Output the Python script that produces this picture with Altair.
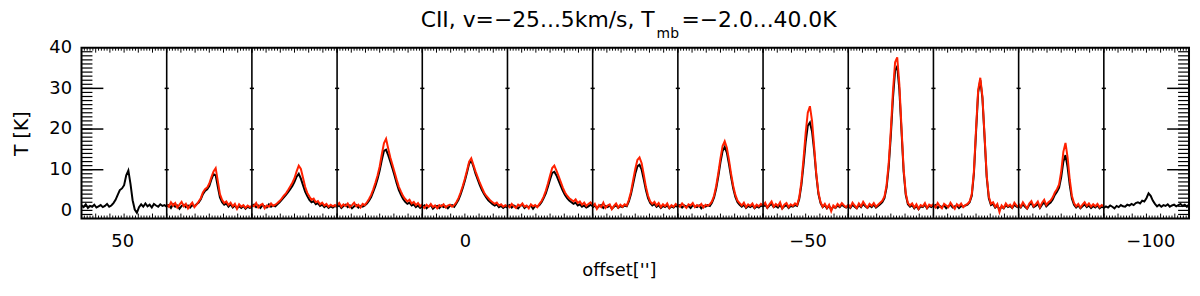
import altair as alt
import pandas as pd

# ---------------- data ----------------
VELOCITY = [-25, -24.25, -23.5, -22.75, -22, -21.25, -20.5, -19.75, -19, -18.25,
            -17.5, -16.75, -16, -15.25, -14.5, -13.75, -13, -12.25, -11.5, -10.75,
            -10, -9.25, -8.5, -7.75, -7, -6.25, -5.5, -4.75, -4, -3.25,
            -2.5, -1.75, -1, -0.25, 0.5, 1.25, 2, 2.75, 3.5, 4.25, 5]
V_MIN, V_MAX = -25, 5
PANEL_OFFSETS = [49.72, 37.29, 24.86, 12.43, 0.0, -12.43, -24.86, -37.29,
                 -49.72, -62.15, -74.58, -87.01, -99.44]
PANEL_STEP = 12.43

B01 = [1.2, 0.8, 1.5, 0.6, 1.1, 0.9, 1.4, 0.7, 1.0, 1.3, 0.8, 1.1, 1.6, 0.9, 1.2,
       1.8, 2.6, 3.8, 5.0, 5.4, 6.2, 8.6, 9.8, 6.5, 2.5, 0.2, -0.6, 0.8, 1.5, 0.9,
       1.7, 1.0, 1.4, 0.7, 1.6, 1.2, 0.9, 1.5, 1.1, 1.3, 0.9]
B02 = [1.0, 1.3, 0.6, 1.5, 0.9, 1.2, 0.4, 1.1, 1.4, 0.8, 1.2, 0.7, 1.3, 1.0, 1.5,
       1.9, 2.7, 4.0, 4.8, 5.2, 6.0, 7.6, 8.9, 8.6, 5.8, 3.2, 2.0, 1.4, 1.7, 0.9,
       1.5, 0.7, 1.2, 0.5, 1.0, 0.6, 1.1, 0.4, 0.9, 0.6, 0.8]
R02 = [1.5, 0.9, 2.0, 1.2, 1.8, 0.7, 1.4, 2.1, 1.0, 1.6, 0.5, 1.3, 1.9, 0.8, 1.4,
       2.2, 3.0, 4.4, 5.2, 5.6, 6.6, 8.2, 9.6, 10.4, 7.2, 4.0, 2.6, 1.8, 2.2, 1.3,
       1.9, 1.0, 1.6, 0.4, 1.5, 0.9, 1.3, 0.6, 1.2, 0.8, 1.1]
B03 = [1.0, 1.4, 0.8, 1.2, 0.6, 1.3, 1.0, 0.7, 1.5, 0.9, 1.2, 1.0,
       1.5, 2.0, 2.6, 3.2, 3.8, 4.5, 5.2, 6.0, 7.0, 8.3, 9.0, 7.8, 6.2, 4.6, 3.5,
       2.6, 2.0, 2.3, 1.5, 1.8, 1.1, 1.4, 0.8, 1.2, 0.6, 1.0, 0.7, 1.1, 0.9]
R03 = [1.4, 1.0, 1.8, 0.7, 1.3, 1.6, 0.5, 1.2, 0.9, 1.7, 1.1, 1.4,
       1.8, 2.3, 2.9, 3.6, 4.2, 5.0, 5.9, 6.8, 7.9, 9.6, 11.0, 10.2, 8.0, 5.8, 4.3,
       3.4, 2.6, 2.9, 2.0, 2.3, 1.5, 1.9, 1.2, 1.6, 0.9, 1.4, 1.0, 1.3, 0.8]
B04 = [0.9, 1.3, 0.6, 1.1, 1.4, 0.8, 1.2, 0.5, 1.0, 1.3, 0.7, 1.1, 0.9, 1.2,
       1.7, 2.4, 3.3, 4.6, 6.0, 7.7, 9.8, 12.4, 14.6, 14.9, 13.6, 12.0, 10.3, 8.5,
       6.6, 5.0, 3.8, 2.8, 2.1, 1.6, 1.9, 1.2, 1.5, 0.8, 1.2, 0.6, 1.0]
R04 = [1.2, 1.8, 0.9, 1.5, 1.1, 1.7, 0.8, 1.3, 1.9, 1.0, 1.4, 0.7, 1.6, 1.3,
       2.0, 2.8, 3.8, 5.2, 6.8, 8.6, 10.8, 13.8, 16.5, 17.6, 15.2, 13.0, 11.2, 9.4,
       7.5, 5.8, 4.6, 3.5, 2.8, 2.2, 2.6, 1.7, 2.1, 1.3, 1.8, 1.0, 1.5]
B05 = [0.8, 1.2, 0.5, 1.0, 1.3, 0.4, 0.9, 1.1, 0.6, 1.2, 0.8, 1.0, 0.5, 1.1, 1.3, 0.9,
       1.7, 2.6, 3.9, 5.5, 7.3, 9.3, 11.5, 12.3, 10.8, 9.0, 7.6, 6.2, 5.0, 4.0,
       3.2, 2.5, 2.0, 1.5, 1.2, 1.5, 0.8, 1.1, 0.6, 1.0, 0.7]
R05 = [1.1, 0.6, 1.4, 0.9, 1.6, 0.8, 1.2, 0.5, 1.3, 1.0, 1.5, 0.7, 1.2, 1.4, 0.9, 1.3,
       2.0, 3.0, 4.4, 6.0, 7.8, 9.8, 12.0, 12.8, 11.2, 9.6, 8.2, 6.8, 5.6, 4.4,
       3.6, 3.0, 2.4, 2.0, 1.6, 1.9, 1.2, 1.5, 0.9, 1.3, 1.0]
B06 = [1.0, 1.3, 0.7, 1.2, 0.9, 0.5, 1.1, 1.4, 0.6, 1.0, 0.8, 1.2, 0.4, 1.1, 0.9, 1.3,
       2.0, 3.0, 4.2, 5.8, 7.6, 9.2, 9.5, 8.6, 7.3, 6.0, 4.8, 3.8, 3.0, 2.4,
       2.0, 1.6, 1.9, 1.2, 1.5, 0.9, 1.2, 0.7, 1.0, 1.4, 1.0]
R06 = [1.3, 0.8, 1.6, 1.0, 0.6, 1.4, 1.1, 1.7, 0.9, 1.2, 0.5, 1.5, 1.0, 1.3, 0.8, 1.6,
       2.3, 3.4, 4.8, 6.6, 8.6, 10.4, 11.0, 9.8, 8.4, 7.0, 5.6, 4.4, 3.6, 3.0,
       2.6, 2.2, 2.7, 1.8, 2.2, 1.4, 1.9, 1.1, 1.6, 2.0, 1.4]
B07 = [0.7, 1.2, 0.5, 1.0, 1.3, 0.6, 1.1, 0.8, 1.2, 0.4, 0.9, 1.3, 0.6, 1.0, 0.8, 1.2, 1.0,
       2.2, 4.0, 6.5, 9.0, 10.8, 11.2, 10.0, 7.6, 5.0, 3.0, 1.8, 1.2, 1.6, 0.9,
       1.3, 0.6, 1.1, 0.8, 1.2, 0.5, 1.0, 0.7, 1.2, 0.8]
R07 = [1.0, 1.6, 0.4, 1.3, 0.8, 1.9, 0.6, 1.2, 1.5, 0.3, 1.1, 1.7, 0.7, 1.4, 0.9, 1.5, 1.2,
       2.6, 4.6, 7.4, 10.2, 12.4, 13.0, 11.6, 8.8, 5.8, 3.6, 2.2, 1.6, 2.1, 1.2,
       1.8, 0.8, 1.5, 1.0, 1.7, 0.6, 1.3, 0.9, 1.6, 1.1]
B08 = [1.0, 1.3, 0.7, 1.2, 0.9, 1.1, 0.6, 1.3, 1.0, 0.8, 1.2, 0.5, 1.1, 0.9, 1.3, 1.1,
       1.9, 3.2, 5.4, 8.4, 11.8, 14.6, 15.6, 14.2, 11.4, 8.2, 5.4, 3.3, 2.0, 1.4,
       0.9, 1.4, 0.6, 1.1, 0.8, 1.2, 0.5, 1.0, 0.7, 1.2, 0.9]
R08 = [1.4, 0.9, 1.7, 1.1, 0.6, 1.5, 1.2, 1.8, 0.8, 1.3, 1.0, 1.6, 0.7, 1.4, 1.1, 1.5,
       2.2, 3.6, 6.0, 9.2, 12.8, 15.8, 17.0, 15.4, 12.4, 9.0, 6.0, 3.8, 2.4, 1.8,
       1.2, 1.9, 0.8, 1.5, 1.1, 1.7, 0.7, 1.4, 1.0, 1.6, 1.2]
B09 = [0.9, 1.4, 0.6, 1.2, 1.6, 0.8, 1.1, 0.7, 1.4, 0.5, 1.0, 1.3, 0.6, 1.1, 0.9, 1.3, 1.1,
       2.8, 6.2, 11.2, 16.8, 20.8, 21.6, 19.4, 14.6, 8.6, 4.0, 1.8, 0.8, 1.3, 0.5,
       1.1, 0.2, 0.9, 0.6, 1.2, 0.8, 1.4, 1.0, 0.7, 1.1]
R09 = [1.2, 1.9, 0.7, 1.5, 2.2, 0.9, 1.6, 1.1, 2.0, 0.5, 1.4, 1.8, 0.8, 1.5, 1.1, 1.7, 1.3,
       3.2, 7.0, 12.6, 19.0, 24.0, 25.6, 22.0, 15.6, 9.0, 4.4, 2.0, 0.9, 1.6, 0.6,
       1.4, -0.2, 1.2, 0.7, 1.6, 1.0, 1.8, 1.2, 0.8, 1.4]
B10 = [1.1, 0.6, 1.4, 0.9, 0.5, 1.3, 0.8, 1.6, 1.0, 0.6, 1.2, 0.8, 1.4, 0.7, 1.1, 1.5, 2.0,
       3.0, 5.6, 10.6, 18.4, 27.6, 34.4, 35.4, 29.6, 19.6, 9.6, 3.8, 1.5, 0.9, 1.3,
       0.5, 1.1, 0.3, 1.0, 0.8, 1.4, 0.5, 1.1, 0.8, 1.2]
R10 = [1.5, 0.8, 1.9, 1.2, 0.6, 1.7, 1.0, 2.1, 1.3, 0.7, 1.6, 1.1, 1.8, 0.9, 1.4, 1.9, 2.4,
       3.4, 6.2, 11.6, 19.8, 29.4, 36.4, 37.6, 31.0, 20.4, 10.2, 4.2, 1.8, 1.2, 1.7,
       0.7, 1.5, 0.4, 1.3, 1.0, 1.8, 0.6, 1.4, 1.1, 1.6]
B11 = [1.0, 1.3, 0.6, 1.1, 0.8, 1.2, 0.5, 1.0, 1.4, 0.7, 1.0, 1.2, 0.6, 1.1, 0.9, 1.2, 1.4, 2.0,
       3.6, 9.0, 19.2, 29.0, 32.0, 27.6, 18.0, 8.2, 3.0, 1.3, 1.6, 0.7, 1.2,
       0.2, 0.9, 0.5, 1.3, 0.8, 1.1, 0.6, 1.4, 0.9, 0.7]
R11 = [1.3, 0.7, 1.8, 1.0, 0.5, 1.6, 1.2, 0.8, 1.9, 1.1, 0.4, 1.5, 1.0, 1.7, 0.8, 1.3, 1.6, 2.2,
       4.0, 9.6, 20.0, 29.6, 32.6, 28.0, 18.4, 8.6, 3.4, 1.6, 2.0, 0.9, 1.6,
       -0.4, 1.2, 0.6, 1.7, 1.0, 1.4, 0.7, 1.9, 1.2, 0.8]
B12 = [1.2, 0.7, 1.5, 0.9, 0.4, 1.3, 1.8, 0.8, 1.1, 1.6, 0.6, 1.4, 2.0, 1.0, 1.5, 1.9,
       2.7, 3.8, 4.6, 5.6, 8.2, 12.0, 13.6, 10.6, 6.2, 2.9, 1.4, 0.7, 1.2, 0.5,
       1.0, 1.5, 0.8, 1.2, 0.6, 1.1, 0.7, 1.2, 0.5, 0.9, 0.7]
R12 = [1.6, 0.9, 2.0, 1.2, 0.5, 1.7, 2.3, 1.0, 1.5, 2.2, 0.8, 1.9, 2.6, 1.3, 2.0, 2.4,
       3.2, 4.4, 5.2, 6.4, 9.6, 14.4, 16.6, 13.0, 7.6, 3.6, 1.8, 1.0, 1.6, 0.7,
       1.4, 2.0, 1.1, 1.7, 0.9, 1.5, 1.0, 1.6, 0.8, 1.3, 1.0]
B13 = [0.6, 1.0, 0.7, 1.2, 0.9, 0.5, 1.1, 0.8, 1.3, 1.0, 0.9, 1.4, 1.2,
       1.6, 1.3, 1.8, 2.0, 1.7, 2.4, 2.2, 3.0, 4.2, 3.6, 2.4, 1.6, 1.0, 1.4, 0.9,
       1.3, 1.1, 1.5, 0.9, 1.2, 1.4, 1.0, 1.3, 1.6, 1.1, 1.4, 0.9, 1.5]

BLACK_SPECTRA = [B01, B02, B03, B04, B05, B06, B07, B08, B09, B10, B11, B12, B13]
RED_SPECTRA = {1: R02, 2: R03, 3: R04, 4: R05, 5: R06, 6: R07, 7: R08,
               8: R09, 9: R10, 10: R11, 11: R12}

X_LABELS = [50, 0, -50, -100]
Y_LABELS = [0, 10, 20, 30, 40]
Y_MAJOR_TICKS = [10, 20, 30]
Y_MINOR_TICKS = list(range(-1, 40))
V_TICKS = list(range(-25, 6))
T_MIN, T_MAX = -2.0, 40.0

TITLE_MAIN = "CII, v=\u221225...5km/s, T"
TITLE_SUB = "mb"
TITLE_END = "=\u22122.0...40.0K"
X_TITLE = "offset['']"
Y_TITLE = "T [K]"

BLACK = "#000000"
RED = "#ff2000"
FONT = "DejaVu Sans"

W, H = 1115, 172


def to_x(center, v):
    # position of velocity v inside the panel centred on `center` (offset axis decreases to the right)
    return center + PANEL_STEP / 2 - (v - V_MIN) / (V_MAX - V_MIN) * PANEL_STEP


rows_b, rows_r = [], []
for k, (c, vals) in enumerate(zip(PANEL_OFFSETS, BLACK_SPECTRA)):
    for v, t in zip(VELOCITY, vals):
        rows_b.append({"panel": k, "x": to_x(c, v), "T": t})
for k, vals in RED_SPECTRA.items():
    c = PANEL_OFFSETS[k]
    for v, t in zip(VELOCITY, vals):
        rows_r.append({"panel": k, "x": to_x(c, v), "T": t})
df_b = pd.DataFrame(rows_b)
df_r = pd.DataFrame(rows_r)

bounds = [c - PANEL_STEP / 2 for c in PANEL_OFFSETS[:-1]]
df_sep = pd.DataFrame({"x": bounds})
df_nub = pd.DataFrame([{"x": b - 0.3, "x2": b + 0.3, "T": y} for b in bounds for y in Y_MAJOR_TICKS])
df_vt = pd.DataFrame([{"x": to_x(c, v), "major": v % 5 == 0} for c in PANEL_OFFSETS for v in V_TICKS])
df_vt_minor = df_vt[~df_vt["major"]]
df_vt_major = df_vt[df_vt["major"]]
df_ymaj = pd.DataFrame({"T": Y_MAJOR_TICKS})
df_ymin = pd.DataFrame({"T": Y_MINOR_TICKS})

x_min = PANEL_OFFSETS[-1] - PANEL_STEP / 2
x_max = PANEL_OFFSETS[0] + PANEL_STEP / 2
x_scale = alt.Scale(domain=[x_min, x_max], reverse=True, nice=False, zero=False)
y_scale = alt.Scale(domain=[T_MIN, T_MAX], nice=False, zero=False)

x_axis = alt.Axis(values=X_LABELS, ticks=False, domain=False, grid=False,
                  labelFontSize=18, labelPadding=14, labelFlush=False,
                  title=X_TITLE, titleFontSize=18, titlePadding=11, titleX=541)
y_axis = alt.Axis(values=Y_LABELS, ticks=False, domain=False, grid=False,
                  labelFontSize=18, labelPadding=10, labelFlush=False,
                  title=Y_TITLE, titleFontSize=19, titlePadding=17)


def X(field="x"):
    return alt.X(f"{field}:Q", scale=x_scale, axis=x_axis, title=X_TITLE)


def Y(field="T"):
    return alt.Y(f"{field}:Q", scale=y_scale, axis=y_axis, title=Y_TITLE)


black_line = alt.Chart(df_b).mark_line(color=BLACK, strokeWidth=2, clip=True).encode(
    x=X(), y=Y(), detail="panel:N")
red_line = alt.Chart(df_r).mark_line(color=RED, strokeWidth=2, clip=True).encode(
    x=X(), y=Y(), detail="panel:N")
sep = alt.Chart(df_sep).mark_rule(color=BLACK, strokeWidth=1.6).encode(
    x=X(), y=alt.value(0), y2=alt.value(H))
nubs = alt.Chart(df_nub).mark_rule(color=BLACK, strokeWidth=1.5).encode(
    x=X(), x2="x2:Q", y=Y())
vt_min_bot = alt.Chart(df_vt_minor).mark_rule(color=BLACK, strokeWidth=1).encode(
    x=X(), y=alt.value(H), y2=alt.value(H - 3))
vt_min_top = alt.Chart(df_vt_minor).mark_rule(color=BLACK, strokeWidth=1).encode(
    x=X(), y=alt.value(0), y2=alt.value(3))
vt_maj_bot = alt.Chart(df_vt_major).mark_rule(color=BLACK, strokeWidth=1).encode(
    x=X(), y=alt.value(H), y2=alt.value(H - 5))
vt_maj_top = alt.Chart(df_vt_major).mark_rule(color=BLACK, strokeWidth=1).encode(
    x=X(), y=alt.value(0), y2=alt.value(5))
ymaj_l = alt.Chart(df_ymaj).mark_rule(color=BLACK, strokeWidth=1.5).encode(
    y=Y(), x=alt.value(0), x2=alt.value(22))
ymaj_r = alt.Chart(df_ymaj).mark_rule(color=BLACK, strokeWidth=1.5).encode(
    y=Y(), x=alt.value(W - 22), x2=alt.value(W))
ymin_l = alt.Chart(df_ymin).mark_rule(color=BLACK, strokeWidth=1.2).encode(
    y=Y(), x=alt.value(0), x2=alt.value(11))
ymin_r = alt.Chart(df_ymin).mark_rule(color=BLACK, strokeWidth=1.2).encode(
    y=Y(), x=alt.value(W - 11), x2=alt.value(W))

t1 = alt.Chart(pd.DataFrame({"t": [TITLE_MAIN]})).mark_text(
    align="right", baseline="alphabetic", font=FONT, fontSize=22, color=BLACK).encode(
    text="t:N", x=alt.value(577), y=alt.value(-21))
t2 = alt.Chart(pd.DataFrame({"t": [TITLE_SUB]})).mark_text(
    align="left", baseline="alphabetic", font=FONT, fontSize=14, color=BLACK).encode(
    text="t:N", x=alt.value(579), y=alt.value(-10))
t3 = alt.Chart(pd.DataFrame({"t": [TITLE_END]})).mark_text(
    align="left", baseline="alphabetic", font=FONT, fontSize=22, color=BLACK).encode(
    text="t:N", x=alt.value(604), y=alt.value(-21))

chart = alt.layer(
    black_line, red_line, ymin_l, ymin_r, ymaj_l, ymaj_r, vt_min_bot, vt_min_top,
    vt_maj_bot, vt_maj_top, sep, nubs, t1, t2, t3,
).properties(
    width=W, height=H,
    autosize=alt.AutoSizeParams(type="none"),
    padding={"left": 74, "top": 39, "right": 3, "bottom": 70},
).configure_view(
    stroke=BLACK, strokeWidth=2,
).configure_axis(
    labelFont=FONT, titleFont=FONT, labelColor=BLACK, titleColor=BLACK,
    titleFontWeight="normal",
)

chart.save("out.html", embed_options={"renderer": "svg", "actions": False})
